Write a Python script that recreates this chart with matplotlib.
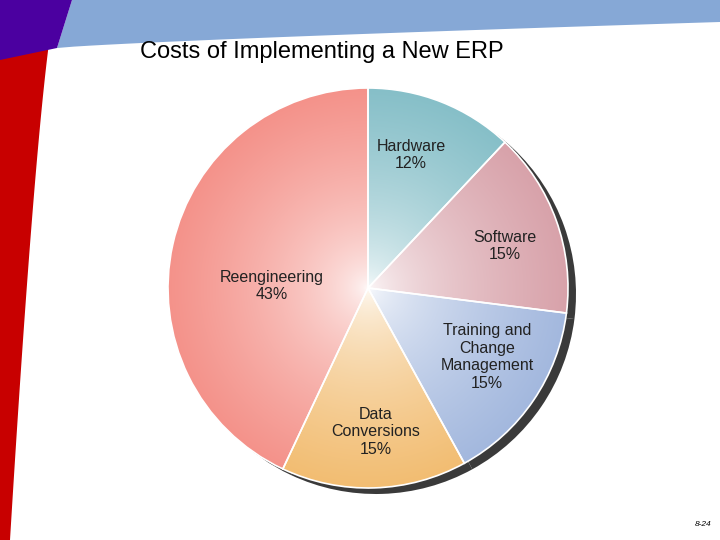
import matplotlib
matplotlib.use("Agg")
import matplotlib.pyplot as plt
import numpy as np
from matplotlib.patches import Polygon

plt.rcParams['font.family'] = ['Liberation Sans', 'DejaVu Sans']

categories = ["Hardware", "Software", "Training and\nChange\nManagement", "Data\nConversions", "Reengineering"]
values = [12, 15, 15, 15, 43]
colors = ["#86bfc8", "#d8a2aa", "#a3b8de", "#f2bd72", "#f4928a"]
label_pos = [(0.215, 0.665), (0.685, 0.21), (0.595, -0.345), (0.04, -0.72), (-0.48, 0.01)]

fig = plt.figure(figsize=(7.2, 5.4), dpi=100)
bg = fig.add_axes([0, 0, 1, 1])
bg.set_xlim(0, 720); bg.set_ylim(540, 0); bg.axis("off")
y = np.linspace(0, 540, 60)
xr = 57 - 47 * (y / 540) ** 0.7
red = np.column_stack([np.r_[0, xr, 0], np.r_[0, y, 540]])
bg.add_patch(Polygon(red, closed=True, color="#c80000", lw=0))
xb = np.linspace(57, 720, 40)
yb = 48 - 26 * ((xb - 57) / 663) ** 0.8
blue = np.column_stack([np.r_[72, 720, xb[::-1]], np.r_[0, 0, yb[::-1]]])
bg.add_patch(Polygon(blue, closed=True, color="#86a8d6", lw=0))
bg.add_patch(Polygon([[0, 0], [72, 0], [57, 48], [0, 60]], closed=True, color="#4b00a0", lw=0))
bg.text(140, 52, "Costs of Implementing a New ERP", fontsize=17, va="center", ha="left")
bg.text(703, 524, "8-24", fontsize=6, style="italic", ha="center", va="center")

ax = fig.add_axes([168 / 720, 52 / 540 - 0.04 * 200 / 540, 2.08 * 200 / 720, 2.04 * 200 / 540])
ax.axis("off")
sh, _ = ax.pie(values, colors=["#3a3a3a"] * 5, startangle=90, counterclock=False,
               center=(0.04, -0.03), radius=1.0, wedgeprops=dict(lw=0))
wedges, _ = ax.pie(values, colors=colors, startangle=90, counterclock=False,
                   wedgeprops=dict(lw=1.2, edgecolor="white"))
ax.set_xlim(-1, 1.08); ax.set_ylim(-1.04, 1); ax.set_aspect("equal")
gx, gy = np.meshgrid(np.linspace(-1, 1, 300), np.linspace(-1, 1, 300))
r = np.clip(np.hypot(gx, gy), 0, 1)
for w, c in zip(wedges, colors):
    rgb = np.array(matplotlib.colors.to_rgb(c))
    t = (r ** 0.55)[..., None]
    img = (1 - t) * np.ones(3) + t * rgb
    im = ax.imshow(img, extent=(-1, 1, -1, 1), origin="lower", zorder=1.5)
    im.set_clip_path(w)
for w in wedges:
    w.set_facecolor("none"); w.set_zorder(2)
for (x0, y0), lab, v in zip(label_pos, categories, values):
    ax.text(x0, y0, f"{lab}\n{v}%", ha="center", va="center", fontsize=11.5, color="#222222", zorder=3)
fig.savefig("out.png", dpi=100)
